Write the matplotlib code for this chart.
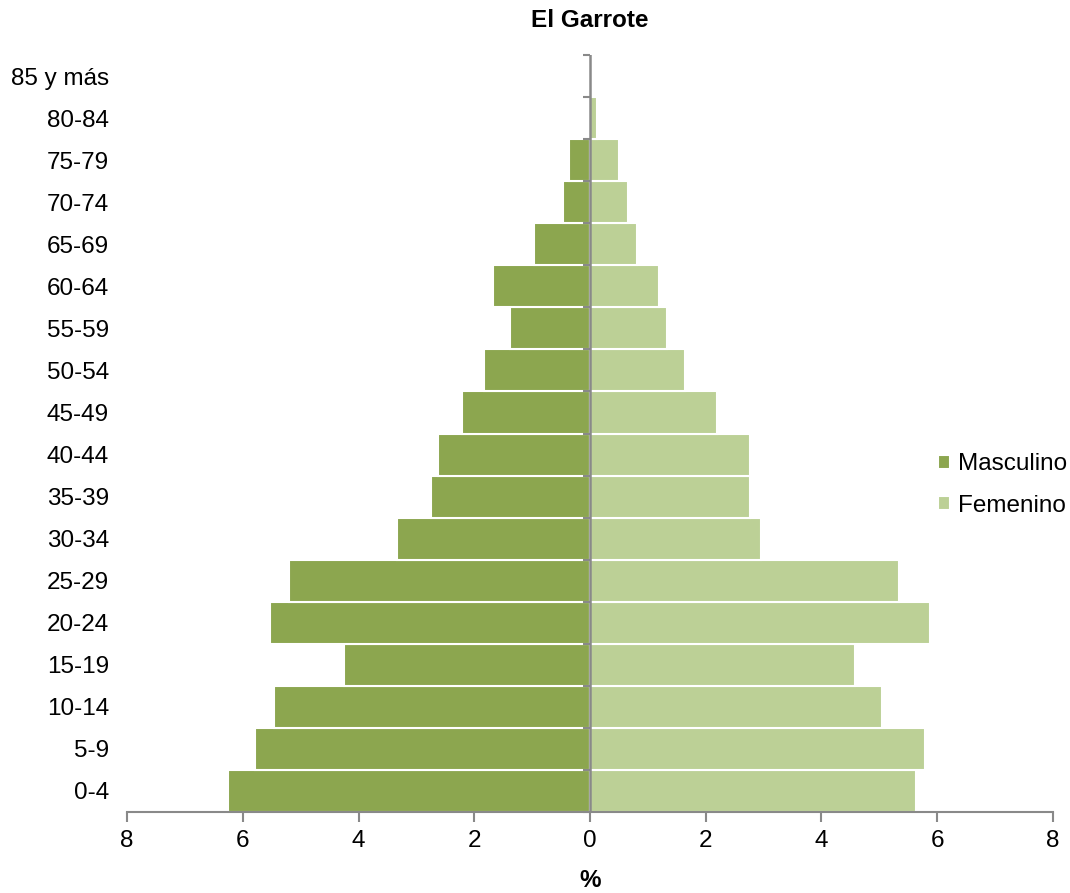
import numpy as np
import matplotlib.pyplot as plt
from matplotlib.ticker import FuncFormatter

plt.rcParams['font.family'] = ['Liberation Sans', 'DejaVu Sans']

grupos = ['0-4', '5-9', '10-14', '15-19', '20-24', '25-29', '30-34', '35-39',
          '40-44', '45-49', '50-54', '55-59', '60-64', '65-69', '70-74',
          '75-79', '80-84', '85 y más']
masculino = [6.25, 5.79, 5.46, 4.25, 5.53, 5.20, 3.33, 2.75, 2.63, 2.21,
             1.83, 1.38, 1.68, 0.97, 0.47, 0.36, 0.0, 0.0]
femenino = [5.63, 5.79, 5.04, 4.58, 5.87, 5.34, 2.95, 2.76, 2.76, 2.19,
            1.64, 1.33, 1.19, 0.81, 0.66, 0.50, 0.12, 0.0]

C_MASC = '#8ca64f'
C_FEM = '#bcd096'
C_AXIS = '#898989'
FS = 17.5

fig = plt.figure(figsize=(10.7, 8.93), dpi=100)
ax = fig.add_axes([0.1187, 0.0907, 0.8654, 0.8477])

y = np.arange(len(grupos))
ax.barh(y, -np.array(masculino), height=1.0, color=C_MASC,
        edgecolor='white', linewidth=1.5, label='Masculino')
ax.barh(y, femenino, height=1.0, color=C_FEM,
        edgecolor='white', linewidth=1.5, label='Femenino')

ax.set_xlim(-8, 8)
ax.set_ylim(-0.5, len(grupos) - 0.5)

# x axis
ax.set_xticks(np.arange(-8, 9, 2))
ax.xaxis.set_major_formatter(FuncFormatter(lambda v, p: '%d' % abs(v)))
ax.tick_params(axis='x', direction='out', length=7, width=1.5,
               color=C_AXIS, labelsize=FS, pad=6)
ax.set_xlabel('%', fontsize=FS, fontweight='bold', labelpad=12)

# y labels on the left, no spine there
ax.set_yticks(y)
ax.set_yticklabels(grupos)
ax.tick_params(axis='y', length=0, labelsize=FS, pad=13)

for s in ['top', 'right', 'left']:
    ax.spines[s].set_visible(False)
ax.spines['bottom'].set_color(C_AXIS)
ax.spines['bottom'].set_linewidth(1.5)

# central axis with category boundary ticks
limites = np.arange(-0.5, len(grupos), 1.0)
ax.axvline(0, color=C_AXIS, linewidth=1.8, zorder=5)
ax.hlines(limites, -0.12, 0, color=C_AXIS, linewidth=1.5, zorder=5,
          clip_on=False)

ax.set_title('El Garrote', fontsize=FS, fontweight='bold', pad=20)

ax.legend(loc='center left', bbox_to_anchor=(0.876, 0.432), frameon=False,
          fontsize=FS, handlelength=0.5, handleheight=0.5,
          handletextpad=0.3, labelspacing=0.8, borderpad=0,
          borderaxespad=0)

fig.savefig('out.png', dpi=100)
